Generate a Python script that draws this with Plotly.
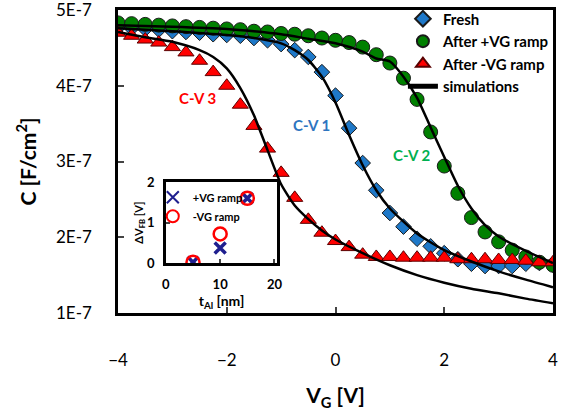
import plotly.graph_objects as go

# ---------------- data ----------------
vg = [-4 + 0.25 * i for i in range(33)]

fresh = [4.77, 4.76, 4.75, 4.74, 4.72, 4.71, 4.70, 4.68, 4.67, 4.66, 4.63, 4.60, 4.55,
         4.47, 4.38, 4.18, 3.87, 3.44, 2.98, 2.62, 2.32, 2.14, 1.98, 1.88, 1.79, 1.71,
         1.65, 1.62, 1.62, 1.62, 1.65, 1.66, 1.64]
after_pos = [4.83, 4.82, 4.81, 4.80, 4.79, 4.78, 4.77, 4.76, 4.75, 4.74, 4.72, 4.71, 4.69,
             4.68, 4.66, 4.63, 4.60, 4.57, 4.51, 4.41, 4.30, 4.10, 3.82, 3.39, 2.94, 2.58,
             2.26, 2.07, 1.94, 1.83, 1.74, 1.67, 1.63]
after_neg = [4.70, 4.66, 4.61, 4.57, 4.51, 4.44, 4.33, 4.18, 4.00, 3.75, 3.47, 3.17, 2.85,
             2.52, 2.23, 2.06, 1.95, 1.87, 1.77, 1.74, 1.74, 1.73, 1.73, 1.73, 1.73, 1.71,
             1.71, 1.71, 1.70, 1.70, 1.69, 1.67, 1.67]

sim1_v = [-4, -3, -2, -1.5, -1, -0.75, -0.5, -0.25, 0, 0.25, 0.5, 0.75, 1.0, 1.5, 2.0, 2.5, 3.0, 3.5, 4.0]
sim1_c = [4.76, 4.72, 4.67, 4.63, 4.56, 4.47, 4.34, 4.12, 3.78, 3.35, 2.95, 2.62, 2.38, 2.05, 1.83, 1.68, 1.55, 1.44, 1.34]
sim2_v = [-4, -3, -2, -1.5, -1, -0.5, 0, 0.5, 0.75, 1.0, 1.25, 1.5, 1.75, 2.0, 2.25, 2.5, 2.75, 3.0, 3.5, 4.0]
sim2_c = [4.80, 4.78, 4.75, 4.72, 4.68, 4.62, 4.56, 4.45, 4.36, 4.32, 4.12, 3.84, 3.45, 3.06, 2.68, 2.38, 2.16, 2.01, 1.82, 1.66]
sim3_v = [-4, -3.5, -3, -2.5, -2.25, -2, -1.75, -1.5, -1.25, -1.0, -0.75, -0.5, -0.25, 0, 0.5, 1.0, 1.5, 2.0, 2.5, 3.0, 3.5, 4.0]
sim3_c = [4.71, 4.64, 4.58, 4.47, 4.38, 4.23, 3.97, 3.61, 3.15, 2.70, 2.42, 2.24, 2.09, 1.97, 1.79, 1.63, 1.50, 1.40, 1.32, 1.26, 1.19, 1.13]

t_al = [5, 10, 15]
dvfb_pos = [0.02, 0.37, 1.6]
dvfb_neg = [0.02, 0.72, 1.6]

ytick_vals = [1e-7, 2e-7, 3e-7, 4e-7, 5e-7]
ytick_text = ["1E-7", "2E-7", "3E-7", "4E-7", "5E-7"]
xtick_vals = [-4, -2, 0, 2, 4]

E = 1e-7
FONT = "Lato"

fig = go.Figure()

fig.add_trace(go.Scatter(x=vg, y=[v * E for v in fresh], mode="markers", name="Fresh",
                         marker=dict(symbol="diamond", size=12, color="#1E78C8",
                                     line=dict(color="#1a1a1a", width=1))))
fig.add_trace(go.Scatter(x=vg, y=[v * E for v in after_pos], mode="markers", name="After +VG ramp",
                         marker=dict(symbol="circle", size=14, color="#008000",
                                     line=dict(color="#1a1a1a", width=1))))
fig.add_trace(go.Scatter(x=vg, y=[v * E for v in after_neg], mode="markers", name="After -VG ramp",
                         marker=dict(symbol="triangle-up", size=14, color="#FF0000",
                                     line=dict(color="#5a0000", width=1))))
for i, (sv, sc) in enumerate([(sim1_v, sim1_c), (sim2_v, sim2_c), (sim3_v, sim3_c)]):
    fig.add_trace(go.Scatter(x=sv, y=[v * E for v in sc], mode="lines", name="simulations",
                             line=dict(color="black", width=2.5, shape="spline", smoothing=0.6),
                             showlegend=(i == 0)))

# inset
fig.add_trace(go.Scatter(x=t_al, y=dvfb_pos, mode="markers", name="+VG ramp",
                         xaxis="x2", yaxis="y2", legend="legend2",
                         marker=dict(symbol="x-thin", size=11, color="#1F1F8F",
                                     line=dict(color="#1F1F8F", width=3.5))))
fig.add_trace(go.Scatter(x=t_al, y=dvfb_neg, mode="markers", name="-VG ramp",
                         xaxis="x2", yaxis="y2", legend="legend2",
                         marker=dict(symbol="circle-open", size=13, color="#FF0000",
                                     line=dict(color="#FF0000", width=2.5))))

ann_font = dict(family=FONT, size=15, weight="bold")
fig.add_annotation(x=-2.54, y=3.84e-7, text="C-V 3", showarrow=False,
                   font=dict(ann_font, color="#FF0000"))
fig.add_annotation(x=-0.44, y=3.48e-7, text="C-V 1", showarrow=False,
                   font=dict(ann_font, color="#2E75C0"))
fig.add_annotation(x=1.41, y=3.09e-7, text="C-V 2", showarrow=False,
                   font=dict(ann_font, color="#00B050"))

fig.update_layout(
    width=563, height=415,
    margin=dict(l=118, r=10, t=10, b=102, autoexpand=False),
    paper_bgcolor="white", plot_bgcolor="white",
    font=dict(family=FONT, color="black"),
    showlegend=True,
    legend=dict(x=0.655, y=1.025, xanchor="left", yanchor="top",
                bgcolor="rgba(0,0,0,0)", tracegroupgap=0, itemwidth=30,
                font=dict(family=FONT, size=15, weight="bold"), itemsizing="constant"),
    legend2=dict(x=0.08, y=0.43, xanchor="left", yanchor="top",
                 bgcolor="rgba(0,0,0,0)", itemwidth=30, itemsizing="constant",
                 font=dict(family=FONT, size=11, weight="bold")),
    xaxis=dict(range=[-4, 4], tickvals=xtick_vals, ticks="inside", ticklen=6, tickwidth=2,
               showline=True, linewidth=2.5, linecolor="black", mirror=True, automargin=False,
               showgrid=False, zeroline=False, ticklabelstandoff=30, ticklabeloverflow="allow",
               tickfont=dict(family=FONT, size=17),
               title=dict(text="<b>V<sub>G</sub> [V]</b>", font=dict(family=FONT, size=21), standoff=20)),
    yaxis=dict(range=[1e-7, 5e-7], tickvals=ytick_vals, ticktext=ytick_text, ticks="inside",
               ticklen=6, tickwidth=2, automargin=False, ticklabeloverflow="allow",
               showline=True, linewidth=2.5, linecolor="black", mirror=True,
               showgrid=False, zeroline=False, ticklabelstandoff=20,
               tickfont=dict(family=FONT, size=17),
               title=dict(text="<b>C [F/cm<sup>2</sup>]</b>", font=dict(family=FONT, size=21), standoff=14)),
    xaxis2=dict(domain=[0.110, 0.366], anchor="y2", range=[0, 20.5], tickvals=[0, 10, 20],
                ticks="inside", ticklen=4, tickwidth=2, automargin=False,
                showline=True, linewidth=2.5, linecolor="black", mirror=True,
                showgrid=False, zeroline=False, ticklabelstandoff=8,
                tickfont=dict(family=FONT, size=13, weight="bold"),
                title=dict(text="<b>t<sub>Al</sub> [nm]</b>", font=dict(family=FONT, size=14), standoff=2)),
    yaxis2=dict(domain=[0.165, 0.432], anchor="x2", range=[0, 2], tickvals=[0, 1, 2],
                ticks="inside", ticklen=4, tickwidth=2, automargin=False,
                showline=True, linewidth=2.5, linecolor="black", mirror=True,
                showgrid=False, zeroline=False, ticklabelstandoff=6,
                tickfont=dict(family=FONT, size=13, weight="bold"),
                title=dict(text="<b>ΔV<sub>FB</sub> [V]</b>", font=dict(family=FONT, size=11), standoff=2)),
)

fig.write_html("out.html", config={"displayModeBar": False},
               post_script="document.body.style.margin='0px';document.body.style.overflow='hidden';")
